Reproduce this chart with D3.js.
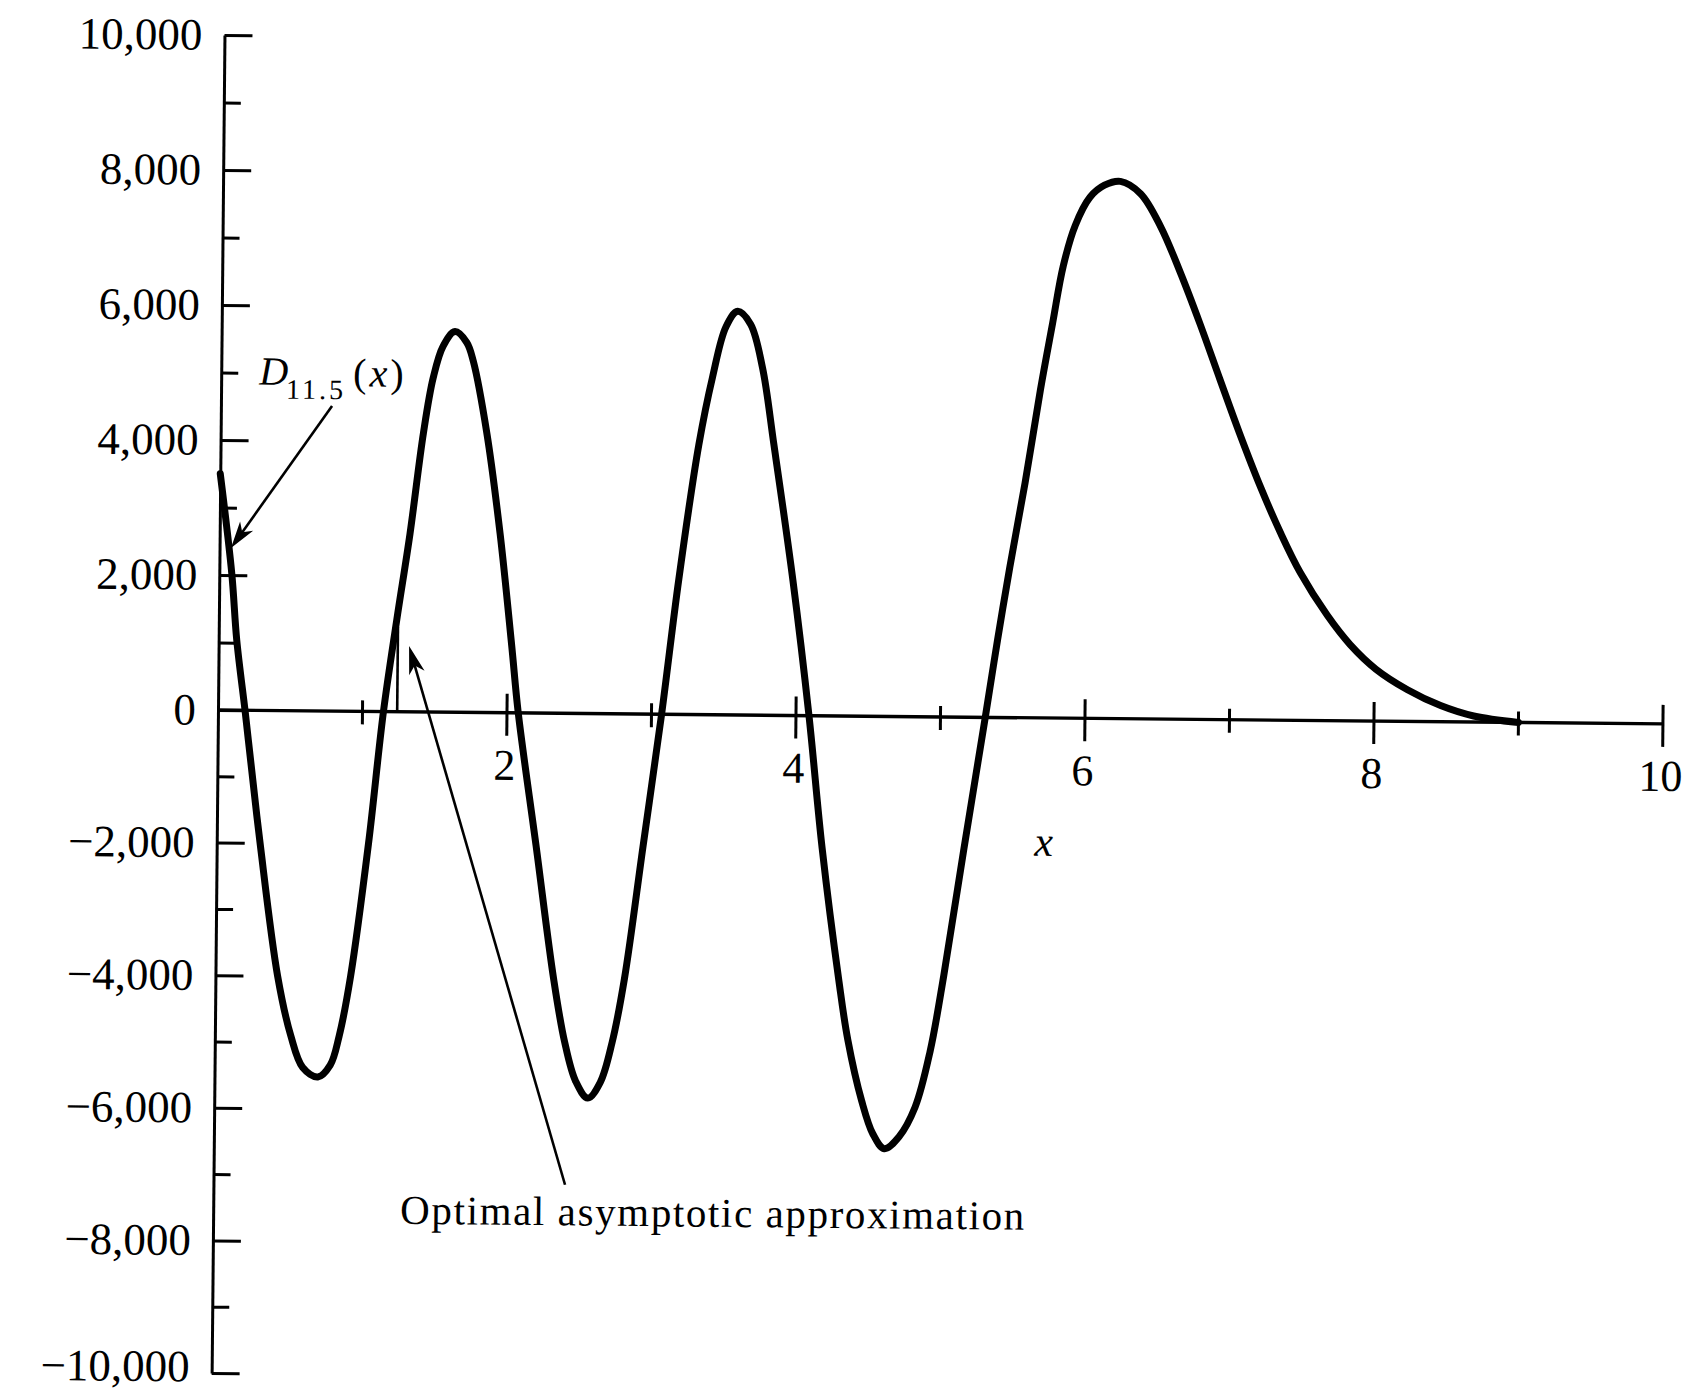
<!DOCTYPE html>
<html>
<head>
<meta charset="utf-8">
<title>D11.5(x) and its optimal asymptotic approximation</title>
<script src="https://d3js.org/d3.v7.min.js"></script>
<style>
  body { margin: 0; background: white; }
  svg { display: block; }
  text { font-family: 'Liberation Serif', 'Times New Roman', serif; fill: black; }
  .axis path, .axis line { stroke: black; stroke-width: 3px; }
  .curve { fill: none; stroke: black; stroke-width: 7px; stroke-linejoin: round; stroke-linecap: round; }
  .pointer { stroke: black; stroke-width: 2.6px; fill: none; }
  .head { fill: black; stroke: none; }
</style>
</head>
<body>
<div id="chart"></div>
<script>

// D_11.5(x)
var curveX = [0, 0.086, 0.125, 0.187, 0.212, 0.30, 0.43, 0.525, 0.61, 0.715, 0.80, 0.86, 0.935, 1.05,
  1.145, 1.231, 1.317, 1.403, 1.467, 1.533, 1.615, 1.697, 1.744, 1.842, 1.94, 2.028,
  2.078, 2.21, 2.34, 2.42, 2.50, 2.585, 2.67, 2.75, 2.83, 2.95,
  3.07, 3.18, 3.31, 3.40, 3.49, 3.57, 3.66, 3.745, 3.83, 3.97,
  4.09, 4.19, 4.315, 4.38, 4.48, 4.56, 4.64, 4.74, 4.85, 4.95, 5.04, 5.17,
  5.31, 5.39, 5.47, 5.57, 5.67, 5.75, 5.82, 5.90, 6.00, 6.10, 6.21, 6.35, 6.49, 6.63, 6.77,
  6.91, 7.05, 7.20, 7.34, 7.48, 7.67, 7.83, 8.01, 8.23, 8.46, 8.69, 9.0]
var curveY = [3500, 2030, 1040, 0, -450, -2000, -4000, -4900, -5380, -5520, -5340, -4900, -4000, -2000,
  0, 1360, 2640, 4130, 4950, 5420, 5640, 5480, 5200, 4140, 2660, 1000,
  0, -2000, -4000, -4950, -5550, -5800, -5560, -4950, -4000, -2000,
  0, 2000, 4000, 5000, 5750, 5980, 5790, 5150, 4000, 2000,
  0, -2000, -4000, -4880, -5800, -6300, -6520, -6340, -5890, -5050, -3900, -2000,
  0, 1150, 2230, 3480, 4860, 5850, 6700, 7300, 7720, 7900, 7960, 7780, 7300, 6620, 5860,
  5050, 4250, 3450, 2780, 2190, 1560, 1130, 770, 470, 240, 90, 0]

// where the optimal asymptotic approximation is cut off
var cutX = [1.24, 1.24]
var cutY = [0, 1250]

var yLabels = [10000, 8000, 6000, 4000, 2000, 0, -2000, -4000, -6000, -8000, -10000]
var yMinor = [9000, 7000, 5000, 3000, 1000, -1000, -3000, -5000, -7000, -9000]
var xMajor = [2, 4, 6, 8, 10]
var xMinor = [1, 3, 5, 7, 9]

const width = 1691
const height = 1392

var x = d3.scaleLinear().domain([0, 10]).range([218, 1663])
var y = d3.scaleLinear().domain([-10000, 0, 10000]).range([1373, 710, 35])

var svg = d3.select('#chart')
  .append('svg')
  .attr('width', width)
  .attr('height', height)

svg.append('rect')
  .attr('width', width)
  .attr('height', height)
  .attr('fill', 'white')

// the printed page sits slightly askew in the scan
var g = svg.append('g')
  .attr('transform', 'rotate(0.55,' + x(0) + ',' + y(0) + ')')

// y axis: minor ticks, then the labelled ones
g.append('g')
  .attr('class', 'axis')
  .attr('transform', 'translate(' + x(0) + ',0)')
  .call(d3.axisLeft(y).tickValues(yMinor).tickSize(-17).tickFormat(''))
  .call(a => a.select('.domain').remove())

var yAxis = g.append('g')
  .attr('class', 'axis')
  .attr('transform', 'translate(' + x(0) + ',0)')
  .call(d3.axisLeft(y)
    .tickValues(yLabels)
    .tickSizeInner(-28)
    .tickSizeOuter(0)
    .tickPadding(22)
    .tickFormat(d3.format(',')))

yAxis.attr('font-family', null).attr('font-size', 45)
// bottom label would run off the page edge otherwise
yAxis.selectAll('text').filter(d => d === -10000).attr('dy', '0.18em')

// x axis: ticks cross the line
g.append('line')
  .attr('class', 'pointer')
  .style('stroke-width', '3.4px')
  .attr('x1', x(0))
  .attr('x2', x(10))
  .attr('y1', y(0))
  .attr('y2', y(0))

g.selectAll('.xtick')
  .data(xMajor.concat(xMinor))
  .enter()
  .append('line')
  .attr('class', 'xtick')
  .style('stroke', 'black')
  .style('stroke-width', '3px')
  .attr('x1', d => x(d))
  .attr('x2', d => x(d))
  .attr('y1', d => y(0) - (xMajor.includes(d) ? 19 : 11))
  .attr('y2', d => y(0) + (xMajor.includes(d) ? 23 : 13))

g.selectAll('.xlabel')
  .data(xMajor)
  .enter()
  .append('text')
  .attr('class', 'xlabel')
  .attr('x', d => x(d) - 2)
  .attr('y', y(0) + 67)
  .attr('text-anchor', 'middle')
  .attr('font-size', 44)
  .text(d => d)

g.append('text')
  .attr('x', 1045)
  .attr('y', 848)
  .attr('text-anchor', 'middle')
  .attr('font-size', 42)
  .attr('font-style', 'italic')
  .text('x')

// the function itself
var line = d3.line()
  .x(d => x(d[0]))
  .y(d => y(d[1]))
  .curve(d3.curveCatmullRom.alpha(0.5))

g.append('path')
  .datum(d3.zip(curveX, curveY))
  .attr('class', 'curve')
  .attr('d', line)

g.append('line')
  .attr('class', 'pointer')
  .attr('x1', x(cutX[0]))
  .attr('x2', x(cutX[1]))
  .attr('y1', y(cutY[0]))
  .attr('y2', y(cutY[1]))

// annotation arrows, ends given in data units
function arrow(tail, tip, len, half) {
  var x0 = x(tail[0]), y0 = y(tail[1])
  var x1 = x(tip[0]), y1 = y(tip[1])
  var d = Math.hypot(x1 - x0, y1 - y0)
  var ux = (x1 - x0) / d, uy = (y1 - y0) / d
  g.append('line')
    .attr('class', 'pointer')
    .attr('x1', x0).attr('y1', y0)
    .attr('x2', x1 - ux * len * 0.7).attr('y2', y1 - uy * len * 0.7)
  var pts = [
    [x1, y1],
    [x1 - ux * len - uy * half, y1 - uy * len + ux * half],
    [x1 - ux * len * 0.72, y1 - uy * len * 0.72],
    [x1 - ux * len + uy * half, y1 - uy * len - ux * half]
  ]
  g.append('path')
    .attr('class', 'head')
    .attr('d', 'M' + pts.join('L') + 'Z')
}

arrow([0.769, 4520], [0.079, 2400], 27, 8)
arrow([2.433, -7110], [1.318, 975], 28, 8)

// label for the curve: D with subscript 11.5, then (x)
g.append('text')
  .attr('x', 256).attr('y', 384)
  .attr('font-size', 40)
  .attr('font-style', 'italic')
  .text('D')
g.append('text')
  .attr('x', 283).attr('y', 398)
  .attr('font-size', 28)
  .attr('letter-spacing', 3)
  .text('11.5')
var arg = g.append('text')
  .attr('x', 350).attr('y', 385)
  .attr('font-size', 40)
  .attr('letter-spacing', 3)
arg.append('tspan').text('(')
arg.append('tspan').attr('font-style', 'italic').text('x')
arg.append('tspan').text(')')

g.append('text')
  .attr('x', 405)
  .attr('y', 1222)
  .attr('font-size', 41)
  .attr('textLength', 624)
  .attr('lengthAdjust', 'spacing')
  .text('Optimal asymptotic approximation')

</script>
</body>
</html>
